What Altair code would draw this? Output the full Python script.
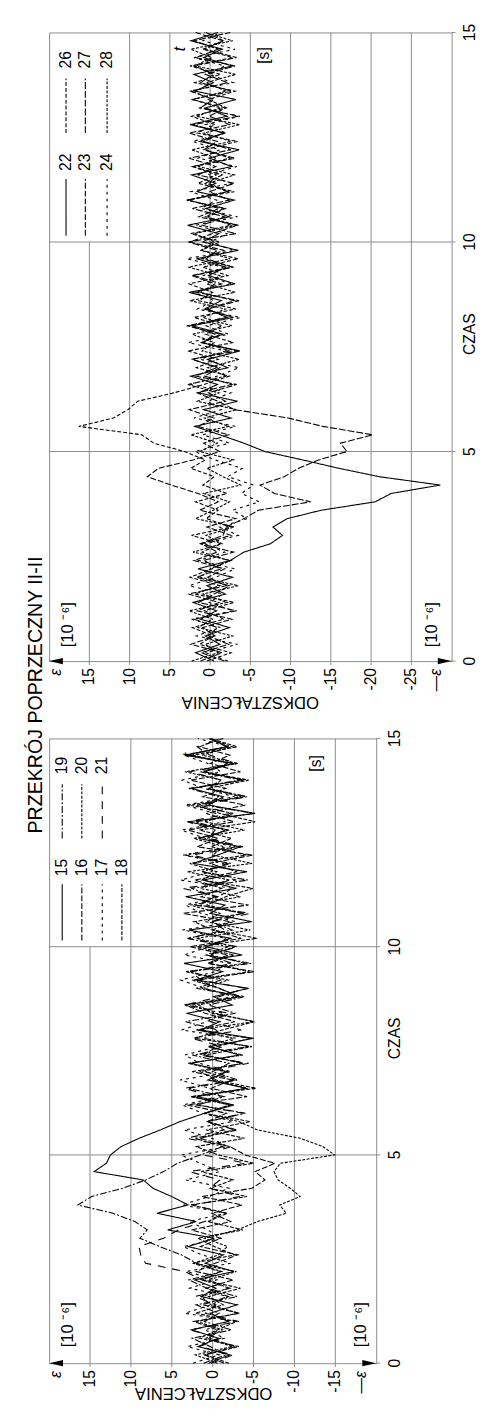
import altair as alt
import pandas as pd

# ---------------- data ----------------
TIME = [round(0.2 * i, 1) for i in range(76)]  # sampling grid, s

# right-hand original panel (drawn on top here): series 22-28
S22 = [-0.5, 1.8, -1.2, 0.6, -2.4, 1.2, -0.8, 2.1, -1.9, 0.4, -2.8, 1.5,
       -2.5, -4.2, -7.5, -9.0, -7.8, -9.6, -13.8, -20.5, -22.5, -28.6, -21.0, -16.0, -11.5, -6.8, -4.2,
       -1.2, 1.9, -2.6, 0.8, -3.4, 1.4, -0.9, 2.4, -2.2, 0.3, -3.7, 1.1, -1.6, 2.2, -2.9, 0.7, -1.4, 2.6,
       -3.1, 0.2, -2.0, 1.7, -3.5, 0.9, -1.1, 2.8, -2.4, 0.5, -3.0, 1.6, -0.7, 2.3, -2.7, 0.1, -3.6, 1.3,
       -1.8, 2.5, -2.1, 0.6, -3.2, 1.9, -0.4, 2.0, -2.8, 0.8, -1.5, 2.4, -1.0]
S23 = [1.2, -1.5, 2.4, -0.6, 0.9, -2.7, 1.6, -1.1, 2.7, -2.0, 0.3, -1.8,
       2.0, -0.9, 1.1, -2.6, 0.4, -3.2, 1.3, -1.0, 1.5, 4.8, 7.8, 6.4, 2.1, -1.2, 0.8,
       -2.3, 1.5, -0.5, 2.6, -1.9, 0.2, -3.3, 1.8, -0.8, 2.2, -2.5, 0.9, -1.3, 2.9, -2.1, 0.4, -3.0, 1.2,
       -0.6, 2.3, -2.8, 1.0, -1.7, 2.5, -0.3, -3.4, 1.4, -1.1, 2.7, -2.2, 0.6, -1.5, 2.1, -3.1, 0.8, -0.9,
       2.6, -2.4, 0.1, -1.9, 2.3, -2.7, 1.2, -0.4, 2.0, -3.3, 0.7, -1.6, 1.8]
S24 = [-2.2, 0.5, -3.4, 1.7, -1.3, 2.3, -2.9, 0.1, -1.6, 2.6, -0.7, -3.1,
       1.4, -1.8, 0.6, -3.5, -1.2, -4.6, -2.8, -6.1, -3.9, -5.4, -2.2, -4.0, -0.6, 1.9, -2.4,
       0.9, -3.2, 2.0, -1.4, 0.3, -2.6, 2.4, -0.9, -3.6, 1.2, -1.9, 2.7, -2.3, 0.5, -3.8, 1.6, -0.5, 2.1,
       -2.7, 0.8, -1.6, 2.9, -3.0, 0.0, -2.1, 1.8, -3.4, 1.1, -0.8, 2.4, -2.6, 0.4, -3.3, 1.5, -1.2, 2.2,
       -2.0, 0.6, -3.7, 1.3, -0.6, 2.5, -2.9, 0.2, -1.8, 2.0, -3.1, 0.9, -1.4]
S26 = [0.4, -2.6, 1.3, -0.4, 2.2, -1.7, 0.7, -3.0, 1.9, -1.2, 2.5, -0.2,
       -2.3, 1.0, -1.4, 2.3, -2.7, 0.5, -1.0, 1.8, -2.1, 0.9, -0.5, 2.4, 0.6, 3.2, 7.0,
       8.5, 16.3, 12.0, 10.2, 9.0, 4.5, 0.8,
       -2.4, 1.7, -1.0, 2.8, -2.9, 0.6, -1.5, 2.0, -3.2, 1.4, -0.3, 2.6, -2.2, 0.9, -3.5, 1.1, -1.2, 2.4,
       -2.6, 0.3, -1.9, 2.9, -3.0, 1.5, -0.8, 2.2, -2.5, 0.7, -3.4, 1.6, -0.6, 2.3, -2.0, 0.2, -3.1, 1.9,
       -1.3, 2.5, -2.8, 0.9, -1.7, 0.5]
S27 = [-1.8, 1.1, -2.3, 0.2, -0.9, 2.0, -3.3, 1.4, -0.5, -2.4, 1.7, -1.3,
       0.8, -2.9, 1.2, -1.6, -2.0, -4.2, -6.0, -12.5, -8.0, -6.2, -9.2, -11.0, -13.5, -17.0, -16.2,
       -20.2, -14.0, -9.7, -3.0, -1.0,
       1.6, -2.7, 0.7, -1.2, 2.3, -3.4, 0.9, -0.6, 2.5, -2.1, 0.3, -3.6, 1.7, -1.4, 2.0, -2.8, 0.5, -0.9,
       2.7, -3.2, 1.0, -1.8, 2.2, -2.4, 0.1, -3.0, 1.5, -0.7, 2.6, -2.6, 0.8, -1.6, 2.1, -3.5, 1.2, -0.4,
       2.4, -2.2, 0.6, -3.1, 1.8, -1.0, 2.0, -2.5]
S28 = [2.3, -1.0, 0.6, -2.8, 1.5, -0.3, 2.6, -2.1, 0.9, -3.5, 1.2, 0.0, -2.6, 2.1, -1.5, 0.5, -3.0,
       1.8, -0.4, -2.4, 0.8, -3.8, -1.6, 0.4, -2.9, 1.3, -0.9, 2.4, -2.3, 0.7, -3.3, 1.6, -1.1, 2.8,
       -2.0, 0.3, -3.6, 1.0, -0.5, 2.2, -2.7, 0.9, -1.9, 2.5, -3.1, 0.4, -1.2, 2.7, -2.5, 1.1, -0.6,
       2.0, -3.4, 0.6, -1.7, 2.9, -2.2, 0.2, -3.0, 1.4, -0.8, 2.3, -2.6, 0.8, -3.7, 1.7, -1.3, 2.1,
       -2.0, 0.5, -3.2, 1.9, -0.2, 2.4, -2.8, 0.7]

# left-hand original panel (drawn below here): series 15-21
S15 = [0.5, -2.1, 1.8, -0.7, 2.6, -1.9, 0.3, -3.0, 1.4, -0.4, 2.2, -2.6, 0.9, -1.3, 3.0, -0.2, 5.5, 2.0, 6.8,
       3.0, 5.0, 7.3, 8.5, 14.5, 13.0, 12.5, 11.2, 9.0, 6.4, 4.0, 1.0,
       -2.6, 1.9, -4.1, 0.6, -1.8, 2.7, -3.3, 0.4, -5.0, 1.5, -0.9, 3.2, -2.4, -0.1, -4.4, 2.1, -1.2,
       3.5, -3.6, 0.8, -2.2, 2.9, -4.8, 0.3, -1.5, 3.3, -2.9, 1.2, -4.2, 2.4, -0.6, -3.4, 1.7, -2.0,
       3.0, -5.2, 0.5, -1.3, 2.6, -3.8, 1.0, -2.5, 3.4, -1.7, 0.2]
S16 = [-1.4, 1.0, -2.8, 0.4, -0.6, 2.3, -3.3, 1.2, -1.9, 0.8, -2.5, 2.0, -0.3, -3.1, 1.5, -1.0, 2.6,
       -2.2, 0.1, -3.6, 1.3, -4.8, -6.4, -5.2, -7.6, -4.0, -2.1, 1.6, -3.0, 0.7, -1.7, 3.1, -4.2, 0.2,
       -2.4, 2.5, -3.8, 1.1, -0.5, -4.6, 2.0, -2.7, 0.9, 3.3, -3.2, -0.8, 1.8, -5.1, 0.6, -1.9, 2.8,
       -3.5, 0.0, -2.2, 3.6, -4.4, 1.4, -1.1, 2.2, -3.0, 0.4, -4.9, 1.9, -0.7, 3.0, -2.6, 0.8, -4.0,
       1.2, -1.6, 2.7, -3.4, 0.3, -2.1, 1.6, -0.9]
S17 = [2.4, -0.8, 3.1, -1.5, 1.0, -2.7, 3.4, 0.2, -1.9, 2.8, -0.5, 3.2, -2.2, 1.3, 3.6, -1.0, 0.6,
       2.9, -1.6, 3.8, 0.4, -2.0, 3.3, -0.9, 1.5, 3.9, -1.8, 0.1, 3.5, -2.5, 1.2, 3.7, -1.1, 0.3, 4.0,
       -2.3, 1.6, 3.4, -0.6, -2.9, 3.8, 0.7, -1.4, 3.6, -2.6, 1.0, 3.9, -0.3, -2.1, 3.5, 0.5, -1.7,
       3.7, -2.8, 1.4, 3.3, -0.7, -2.4, 3.9, 0.2, -1.3, 3.6, -2.2, 0.9, 3.8, -1.5, -0.4, 3.4, -2.7,
       1.1, 3.7, -1.0, 0.6, 3.5, -2.0, 1.8]
S18 = [-2.0, 0.9, -3.2, 1.6, -0.6, -2.9, 2.1, -1.3, 0.5, -3.4, 1.2, -0.9, 2.4, -2.7, -0.2, 1.8,
       -3.7, 0.6, -1.8, 2.7, -4.2, 0.3, -2.5, 1.4, -5.0, -0.7, 2.0, -3.9, 0.8, -4.6, 1.0, -2.1, 2.6,
       -5.3, -0.4, 1.5, -3.6, 0.9, -4.8, 2.2, -1.2, -5.1, 0.1, 1.7, -3.3, -0.8, 2.5, -4.5, 0.4, -2.6,
       1.9, -5.4, -0.1, 2.3, -3.8, 0.7, -1.6, -4.9, 1.3, -0.5, 2.8, -4.1, 0.2, -2.3, 1.6, -5.2, -0.9,
       2.0, -3.5, 0.6, -4.4, 1.1, -1.9, 2.4, -3.0, 0.3]
S19 = [1.1, -1.6, 0.3, 2.5, -2.3, 1.0, -0.8, 2.0, -3.0, 0.7, 2.9, -1.1,
       2.0, 3.8, 6.5, 8.9, 8.0, 9.5, 12.2, 16.5, 14.8, 11.0, 8.2, 6.0, 4.3, 1.5, -1.2,
       2.2, -2.7, 0.6, -4.0, 1.8, -1.4, 3.0, -3.1, 0.0, -2.0, 2.5, -4.5, 1.1, -0.6, 3.3, -2.8, 0.5,
       -3.9, 2.0, -1.0, 2.8, -4.7, 0.8, -1.9, 3.1, -2.4, 0.2, -3.6, 1.6, -0.3, 2.6, -4.3, 1.3, -2.2,
       3.4, -3.0, 0.7, -1.5, 2.1, -5.0, 0.9, -0.8, 2.9, -3.4, 1.5, -2.6, 3.2, -1.8, 0.4]
S20 = [-0.6, 2.1, -2.4, 0.8, -1.2, 1.9, -3.1, 0.2, 1.4, -2.0, 0.5, -2.9, 2.3, -0.7, -1.8, 1.0,
       -3.0, -5.5, -9.0, -8.2, -10.7, -9.5, -8.0, -7.5, -8.3, -14.9, -13.5, -10.7, -5.5, -3.2,
       0.9, -2.2, 2.6, -4.3, 0.1, -1.5, 3.0, -3.7, 0.6, -2.5, 1.8, -5.0, -0.4, 2.4, -3.2, 1.2, -1.9,
       3.3, -4.0, 0.3, -2.8, 2.0, -4.6, 0.8, -0.9, 2.7, -3.4, 1.5, -2.1, 3.1, -4.8, 0.0, -1.4, 2.3,
       -3.9, 1.0, -2.6, 2.9, -4.2, 0.5, -1.1, 3.4, -3.1, 1.3, -2.4, 0.6]
S21 = [0.2, -2.5, 1.6, -1.0, 2.8, -3.2, 0.9, -0.4, 2.2, -2.1, 1.3,
       3.4, 8.2, 8.8, 9.0, 6.0, 4.2, 1.0,
       -1.6, 2.4, -3.3, 0.4, -0.9, 2.9, -4.1, 1.1, -2.3, 3.2, -1.4, 0.6, -3.8, 2.0, -0.2, 3.5, -2.7,
       0.9, -4.4, 1.7, -1.2, 2.6, -3.5, 0.3, -2.0, 3.3, -0.8, -4.0, 1.4, 2.7, -2.4, 0.7, -3.1, 3.0,
       -1.5, 0.1, -4.6, 2.2, -0.6, 3.6, -2.9, 1.2, -1.8, 2.5, -3.7, 0.5, -0.3, 3.1, -2.2, 1.6, -4.2,
       0.8, -1.1, 2.8, -3.0, 0.4, 1.9, -1.3]

UPPER = {"22": S22, "23": S23, "24": S24, "26": S26, "27": S27, "28": S28}
LOWER = {"15": S15, "16": S16, "17": S17, "18": S18, "19": S19, "20": S20, "21": S21}

SERIES = ["15", "16", "17", "18", "19", "20", "21", "22", "23", "24", "26", "27", "28"]
DASHES = [[1, 0], [6, 2], [3, 4], [4, 1.5], [7, 2, 2, 2], [3, 1.5], [8, 7],
          [1, 0], [6, 2], [3, 4], [4, 2], [7, 2], [3, 1.5]]

UP_TICKS = [15, 10, 5, 0, -5, -10, -15, -20, -25]
LO_TICKS = [15, 10, 5, 0, -5, -10, -15]
T_TICKS = [0, 5, 10, 15]
T_GRID = [5, 10]

UP_LEG_SERIES = ["22", "23", "24", "26", "27", "28"]
UP_LEG_EPS = [17.9, 15.5, 12.8, 17.9, 15.5, 12.8]
LO_LEG_SERIES = ["15", "16", "17", "18", "19", "20", "21"]
LO_LEG_EPS = [18.4, 16.0, 13.5, 11.1, 18.4, 16.0, 13.5]

TITLE = "PRZEKRÓJ POPRZECZNY  II-II"
GRID = "#8a8a8a"
FONT = "Liberation Sans"


def long_df(d):
    rows = []
    for s, vals in d.items():
        for t, v in zip(TIME, vals):
            rows.append({"series": s, "t": t, "eps": v})
    return pd.DataFrame(rows)


def legend_df(series, eps, ngroup1):
    rows = []
    for i, (s, e) in enumerate(zip(series, eps)):
        g1 = i < ngroup1
        rows.append({"series": s, "eps": e,
                     "t0": 10.15 if g1 else 12.6,
                     "t1": 11.5 if g1 else 13.9,
                     "tl": 11.9 if g1 else 14.35})
    return pd.DataFrame(rows)


dash_scale = alt.Scale(domain=SERIES, range=DASHES)
L_ARROW = "M-1,0L1,-0.45L1,0.45Z"
R_ARROW = "M1,0L-1,-0.45L-1,0.45Z"


def panel(data, dom, width, height, ticks, leg, ngroup1, notes, odk_eps, odk_off):
    xs = alt.Scale(domain=dom, reverse=True, nice=False, zero=False)
    ys = alt.Scale(domain=[0, 15], nice=False, zero=False)
    lo, hi = dom

    def X(f):
        return alt.X(f, scale=xs, axis=None)

    def Y(f):
        return alt.Y(f, scale=ys, axis=None)

    vg_rows = [{"eps": v, "t0": 0, "t1": (10 if v == 15 else 15)} for v in ticks]
    vgrid = alt.Chart(pd.DataFrame(vg_rows)).mark_rule(color=GRID, strokeWidth=1).encode(
        x=X("eps:Q"), y=Y("t0:Q"), y2="t1:Q")
    hgrid = alt.Chart(pd.DataFrame({"t": T_GRID})).mark_rule(color=GRID, strokeWidth=1).encode(
        y=Y("t:Q"))

    # epsilon ticks + labels (below the frame)
    xt = pd.DataFrame({"eps": ticks, "lab": [str(v) for v in ticks]})
    xtick = alt.Chart(xt).mark_rule(color=GRID, strokeWidth=1).encode(
        x=X("eps:Q"), y=alt.value(height), y2=alt.value(height + 4))
    xlab = alt.Chart(xt).mark_text(angle=270, fontSize=16, align="right", baseline="middle",
                                   color="black").encode(
        x=X("eps:Q"), y=alt.value(height + 7), text="lab:N")

    # time ticks + labels (right of the frame)
    yt = pd.DataFrame({"t": T_TICKS, "lab": [str(v) for v in T_TICKS]})
    ytick = alt.Chart(yt).mark_rule(color=GRID, strokeWidth=1).encode(
        y=Y("t:Q"), x=alt.value(width), x2=alt.value(width + 4))
    ylab = alt.Chart(yt).mark_text(angle=270, fontSize=16, align="center", baseline="top",
                                   color="black").encode(
        y=Y("t:Q"), x=alt.value(width + 11), text="lab:N")

    lines = alt.Chart(long_df(data)).mark_line(color="black", strokeWidth=1.1).encode(
        x=X("eps:Q"), y=Y("t:Q"),
        detail="series:N", order="t:Q",
        strokeDash=alt.StrokeDash("series:N", scale=dash_scale, legend=None))

    ldf = legend_df(leg[0], leg[1], ngroup1)
    leg_lines = alt.Chart(ldf).mark_rule(color="black", strokeWidth=1.1).encode(
        x=X("eps:Q"), y=Y("t0:Q"), y2="t1:Q",
        strokeDash=alt.StrokeDash("series:N", scale=dash_scale, legend=None))
    leg_text = alt.Chart(ldf).mark_text(angle=270, fontSize=16, align="center",
                                        baseline="middle", color="black").encode(
        x=X("eps:Q"), y=Y("tl:Q"), text="series:N")

    ndf = pd.DataFrame(notes)
    note_plain = alt.Chart(ndf).transform_filter("datum.kind == 'plain'").mark_text(
        angle=270, fontSize=16, align="center", baseline="middle", color="black").encode(
        x=X("eps:Q"), y=Y("t:Q"), text="txt:N")
    note_ital = alt.Chart(ndf).transform_filter("datum.kind == 'ital'").mark_text(
        angle=270, fontSize=16, align="center", baseline="middle", fontStyle="italic",
        color="black").encode(x=X("eps:Q"), y=Y("t:Q"), text="txt:N")
    note_unit = alt.Chart(ndf).transform_filter("datum.kind == 'unit'").mark_text(
        angle=270, fontSize=17, align="left", baseline="middle", color="black").encode(
        x=X("eps:Q"), y=Y("t:Q"), text="txt:N")

    sdf = pd.DataFrame({"eps": [hi - 0.9, lo + 1.9], "txt": ["ε", "—ε"]})
    eps_sym = alt.Chart(sdf).mark_text(angle=270, fontSize=16, align="right", baseline="middle",
                                       fontStyle="italic", color="black").encode(
        x=X("eps:Q"), y=alt.value(height + 8), text="txt:N")

    adf = pd.DataFrame({"eps": [hi - 0.85, lo + 0.85], "dir": ["L", "R"]})
    arrows = alt.Chart(adf).mark_point(filled=True, color="black", size=200, opacity=1,
                                       strokeWidth=0).encode(
        x=X("eps:Q"), y=alt.value(height),
        shape=alt.Shape("dir:N", scale=alt.Scale(domain=["L", "R"], range=[L_ARROW, R_ARROW]),
                        legend=None))

    odk = alt.Chart(pd.DataFrame({"eps": [odk_eps], "txt": ["ODKSZTAŁCENIA"]})).mark_text(
        angle=180, fontSize=17, align="center", baseline="bottom", color="black").encode(
        x=X("eps:Q"), y=alt.value(height + odk_off), text="txt:N")
    czas = alt.Chart(pd.DataFrame({"t": [7.8], "txt": ["CZAS"]})).mark_text(
        angle=270, fontSize=16, align="center", baseline="top", color="black").encode(
        x=alt.value(width + 11), y=Y("t:Q"), text="txt:N")

    return alt.layer(vgrid, hgrid, xtick, xlab, ytick, ylab, lines, leg_lines, leg_text,
                     note_plain, note_ital, note_unit, eps_sym, arrows, odk, czas
                     ).properties(width=width, height=height)


up_notes = [
    {"kind": "ital", "eps": 3.7, "t": 14.6, "txt": "t"},
    {"kind": "plain", "eps": -6.7, "t": 14.45, "txt": "[s]"},
    {"kind": "unit", "eps": 17.6, "t": 0.33, "txt": "[10 ⁻⁶]"},
    {"kind": "unit", "eps": -27.6, "t": 0.33, "txt": "[10 ⁻⁶]"},
]
lo_notes = [
    {"kind": "ital", "eps": 2.9, "t": 14.6, "txt": "t"},
    {"kind": "plain", "eps": -12.7, "t": 14.4, "txt": "[s]"},
    {"kind": "unit", "eps": 17.7, "t": 0.38, "txt": "[10 ⁻⁶]"},
    {"kind": "unit", "eps": -18.1, "t": 0.38, "txt": "[10 ⁻⁶]"},
]

upper = panel(UPPER, [-30, 20], 411, 642, UP_TICKS, (UP_LEG_SERIES, UP_LEG_EPS), 3,
              up_notes, -5, 33)
lower = panel(LOWER, [-20, 20], 334, 638, LO_TICKS, (LO_LEG_SERIES, LO_LEG_EPS), 4,
              lo_notes, 1.1, 21)

chart = alt.vconcat(upper, lower, spacing=79, bounds="flush").properties(
    title=alt.TitleParams(TITLE, orient="left", anchor="middle", fontSize=20,
                          fontWeight="normal", font=FONT, color="black", offset=2, dx=18),
    padding={"left": 18, "top": 0, "right": 0, "bottom": 0},
).configure(font=FONT).configure_view(stroke=GRID, strokeWidth=1)

chart.save("out.html", embed_options={"renderer": "svg", "actions": False})
